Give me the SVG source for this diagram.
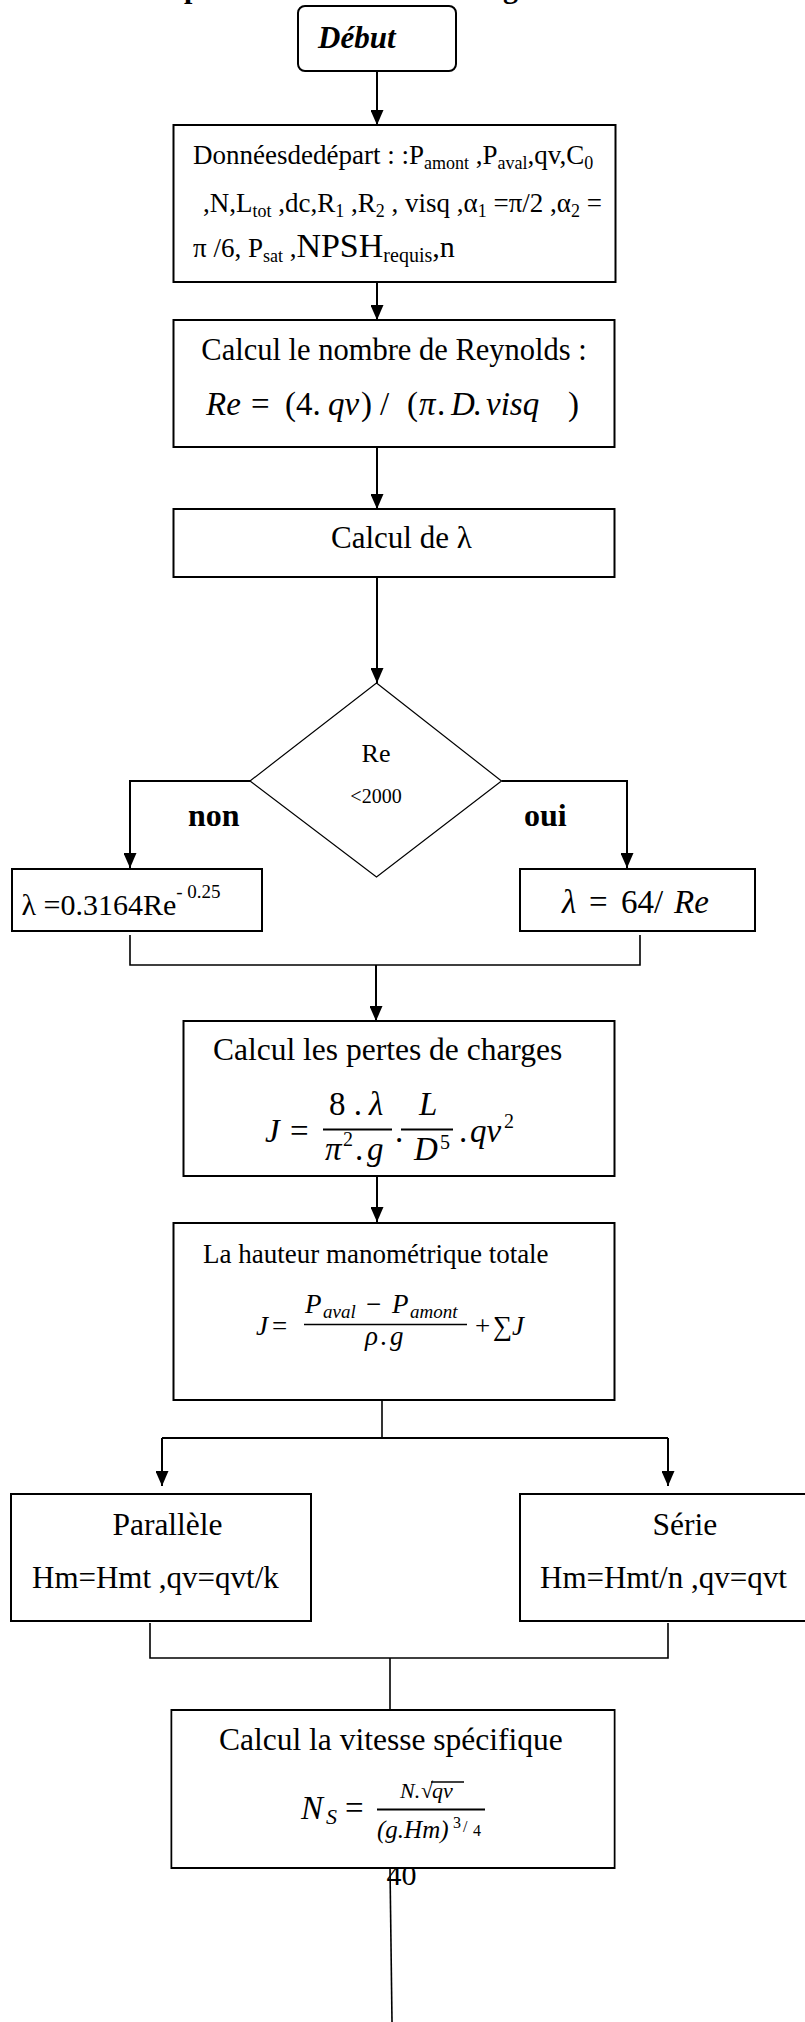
<svg xmlns="http://www.w3.org/2000/svg" width="805" height="2022" viewBox="0 0 805 2022">
<style>
.box{fill:#fff;stroke:#000;stroke-width:2}
.dia{fill:#fff;stroke:#000;stroke-width:1.2}
.t{font-family:"Liberation Serif","Times New Roman",serif;fill:#000}
.i{font-style:italic}
.b{font-weight:bold}
.c{stroke:#000;stroke-width:2;fill:none}
.c2{stroke:#000;stroke-width:1.6;fill:none}
.bar{stroke:#000;stroke-width:2}
</style>
<defs>
<marker id="ah" viewBox="0 0 15 13" refX="15" refY="6.5" markerWidth="15" markerHeight="13" markerUnits="userSpaceOnUse" orient="auto">
<path d="M0,0 L15,6.5 L0,13 Z" fill="#000"/>
</marker>
</defs>
<rect width="805" height="2022" fill="#fff"/>
<g id="title-fragments">
<text class="t b" x="184" y="-2" font-size="30">p</text>
<text class="t b" x="503" y="-2" font-size="30">g</text>
</g>
<g id="connectors">
<path class="c" d="M377,71 V125" marker-end="url(#ah)"/>
<path class="c" d="M377,282 V320" marker-end="url(#ah)"/>
<path class="c" d="M377,447 V509" marker-end="url(#ah)"/>
<path class="c" d="M377,577 V683" marker-end="url(#ah)"/>
<path class="c" d="M250,781 H130 V868" marker-end="url(#ah)"/>
<path class="c" d="M501.5,781 H627 V868" marker-end="url(#ah)"/>
<path class="c2" d="M130,935 V965 H640 V935"/>
<path class="c" d="M376,965 V1021" marker-end="url(#ah)"/>
<path class="c" d="M377,1176 V1222" marker-end="url(#ah)"/>
<path class="c2" d="M382,1394 V1438"/>
<path class="c" d="M162,1438 H668"/>
<path class="c" d="M162,1438 V1486" marker-end="url(#ah)"/>
<path class="c" d="M668,1438 V1486" marker-end="url(#ah)"/>
<path class="c2" d="M150,1623 V1658 H668 V1623"/>
<path class="c2" d="M390,1658 V1710"/>
<path class="c2" d="M390,1868 L392,2022"/>
</g>
<g id="debut">
<rect class="box" x="298" y="6" width="158" height="65" rx="7"/>
<text class="t b i" x="318" y="48" font-size="31">Début</text>
</g>
<g id="donnees">
<rect class="box" x="173.5" y="125" width="442" height="157"/>
<text class="t" x="193" y="164" font-size="27">Donnéesdedépart : :P<tspan font-size="18" dy="5">amont</tspan><tspan dy="-5"> ,P</tspan><tspan font-size="18" dy="5">aval</tspan><tspan dy="-5">,qv,C</tspan><tspan font-size="18" dy="5">0</tspan></text>
<text class="t" x="203" y="212" font-size="27">,N,L<tspan font-size="18" dy="5">tot</tspan><tspan dy="-5"> ,dc,R</tspan><tspan font-size="18" dy="5">1</tspan><tspan dy="-5"> ,R</tspan><tspan font-size="18" dy="5">2</tspan><tspan dy="-5"> , visq ,α</tspan><tspan font-size="18" dy="5">1</tspan><tspan dy="-5"> =π/2 ,α</tspan><tspan font-size="18" dy="5">2</tspan><tspan dy="-5"> =</tspan></text>
<text class="t" x="193" y="257" font-size="27">π /6, P<tspan font-size="18" dy="5">sat</tspan><tspan dy="-5"> ,</tspan><tspan font-size="34">NPSH</tspan><tspan font-size="20" dy="5">requis</tspan><tspan dy="-5" font-size="30">,n</tspan></text>
</g>
<g id="reynolds">
<rect class="box" x="173.5" y="320" width="441" height="127"/>
<text class="t" x="394" y="360" text-anchor="middle" font-size="30.5">Calcul le nombre de Reynolds :</text>
<g class="t" font-size="33">
<text class="i" x="206" y="415">Re</text>
<text x="251" y="415">=</text>
<text x="285" y="415">(4.</text>
<text class="i" x="328" y="415">qv</text>
<text x="361" y="415">)</text>
<text x="380" y="415">/</text>
<text x="407" y="415">(</text>
<text class="i" x="419" y="415">π</text>
<text x="437" y="415">.</text>
<text class="i" x="451" y="415">D</text>
<text x="473" y="415">.</text>
<text class="i" x="486" y="415">visq</text>
<text x="568" y="415">)</text>
</g>
</g>
<g id="calcul-lambda">
<rect class="box" x="173.5" y="509" width="441" height="68"/>
<text class="t" x="331" y="548" font-size="31">Calcul de λ</text>
</g>
<g id="decision">
<polygon class="dia" points="376.5,683 501.5,781 376.5,877 250,781"/>
<text class="t" x="376" y="762" text-anchor="middle" font-size="26">Re</text>
<text class="t" x="376" y="803" text-anchor="middle" font-size="20">&lt;2000</text>
</g>
<g id="labels">
<text class="t b" x="188" y="826" font-size="32">non</text>
<text class="t b" x="524" y="826" font-size="32">oui</text>
</g>
<g id="lambda-turbulent">
<rect class="box" x="12" y="869" width="250" height="62"/>
<text class="t" x="21.5" y="915" font-size="30">λ =0.3164Re<tspan font-size="19" dy="-17">- 0.25</tspan></text>
</g>
<g id="lambda-laminaire">
<rect class="box" x="520" y="869" width="235" height="62"/>
<g class="t" font-size="33">
<text class="i" x="562" y="913">λ</text>
<text x="589" y="913">=</text>
<text x="621" y="913">64/</text>
<text class="i" x="674" y="913">Re</text>
</g>
</g>
<g id="pertes">
<rect class="box" x="183.5" y="1021" width="431" height="155"/>
<text class="t" x="213" y="1060" font-size="31.5">Calcul les pertes de charges</text>
<g class="t" font-size="33">
<text class="i" x="265" y="1142">J</text>
<text x="290" y="1142">=</text>
<line class="bar" x1="323" y1="1129.5" x2="392" y2="1129.5"/>
<text x="329" y="1115">8 .</text>
<text class="i" x="369" y="1115">λ</text>
<text class="i" x="325" y="1160">π</text>
<text x="343" y="1146" font-size="20">2</text>
<text x="355" y="1160">.</text>
<text class="i" x="367" y="1160">g</text>
<text x="395" y="1142">.</text>
<line class="bar" x1="401" y1="1129.5" x2="453" y2="1129.5"/>
<text class="i" x="419" y="1115">L</text>
<text class="i" x="414" y="1160">D</text>
<text x="440" y="1149" font-size="20">5</text>
<text x="459" y="1142">.</text>
<text class="i" x="470" y="1142">qv</text>
<text x="504" y="1128" font-size="20">2</text>
</g>
</g>
<g id="hauteur">
<rect class="box" x="173.5" y="1223" width="441" height="177"/>
<text class="t" x="203" y="1263" font-size="27">La hauteur manométrique totale</text>
<g class="t" font-size="27">
<text class="i" x="256" y="1335">J</text>
<text x="272" y="1335">=</text>
<line x1="304" y1="1324.5" x2="467" y2="1324.5" stroke="#000" stroke-width="1.6"/>
<text class="i" x="305" y="1313">P</text>
<text class="i" x="323" y="1318" font-size="19">aval</text>
<text x="366" y="1313">−</text>
<text class="i" x="392" y="1313">P</text>
<text class="i" x="410" y="1318" font-size="19">amont</text>
<text class="i" x="365" y="1345">ρ</text>
<text x="380" y="1345">.</text>
<text class="i" x="390" y="1345">g</text>
<text x="475" y="1335">+</text>
<text x="493" y="1335">∑</text>
<text class="i" x="512" y="1335">J</text>
</g>
</g>
<g id="parallele">
<rect class="box" x="11" y="1494" width="300" height="127"/>
<text class="t" x="167.5" y="1535" text-anchor="middle" font-size="31.5">Parallèle</text>
<text class="t" x="32" y="1588" font-size="31">Hm=Hmt ,qv=qvt/k</text>
</g>
<g id="serie">
<rect class="box" x="520" y="1494" width="300" height="127"/>
<text class="t" x="652.5" y="1535" font-size="31.5">Série</text>
<text class="t" x="540" y="1588" font-size="31">Hm=Hmt/n ,qv=qvt</text>
</g>
<text class="t" x="386.5" y="1885" font-size="30">40</text>
<g id="vitesse">
<rect x="171.5" y="1710" width="443" height="158" fill="none" stroke="#000" stroke-width="2"/>
<rect x="172.5" y="1711" width="441" height="156" fill="#fff"/>
<text class="t" x="219" y="1750" font-size="31.5">Calcul la vitesse spécifique</text>
<g class="t">
<text class="i" x="301" y="1819" font-size="33">N</text>
<text class="i" x="326" y="1824" font-size="22">S</text>
<text x="345" y="1819" font-size="33">=</text>
<line class="bar" x1="377" y1="1809.5" x2="485" y2="1809.5"/>
<text class="i" x="400" y="1798" font-size="22">N.</text>
<text x="421" y="1798" font-size="22">√</text>
<line x1="431" y1="1782" x2="464" y2="1782" stroke="#000" stroke-width="1.3"/>
<text class="i" x="432" y="1798" font-size="22">qv</text>
<text class="i" x="377" y="1838" font-size="25">(g.Hm)</text>
<text x="453" y="1828" font-size="16">3</text>
<text x="463" y="1832" font-size="16">/</text>
<text x="473" y="1836" font-size="16">4</text>
</g>
</g>
</svg>
